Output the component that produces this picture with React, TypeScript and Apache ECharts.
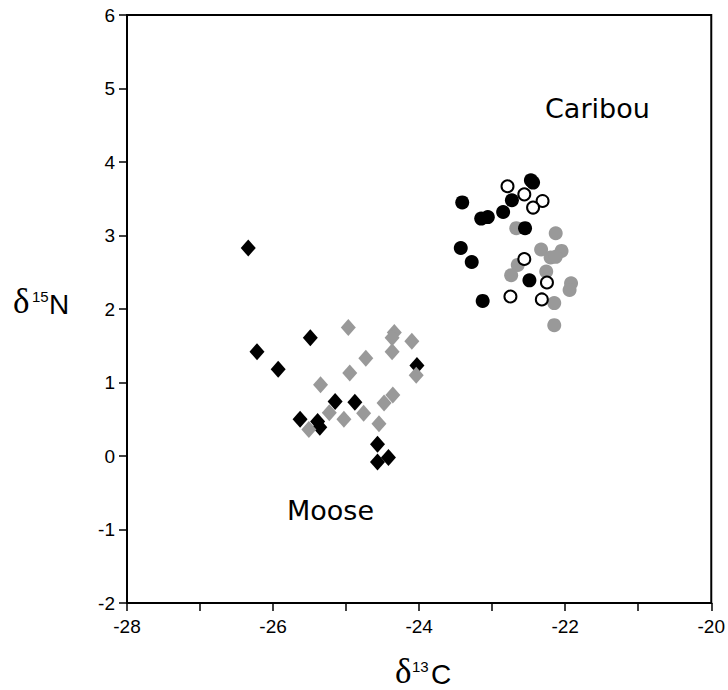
import React, { useEffect, useRef } from "react";
import * as echarts from "echarts";

const xTicks = [-28, -26, -24, -22, -20];
const yTicks = [-2, -1, 0, 1, 2, 3, 4, 5, 6];

const caribouGray: number[][] = [
  [-22.67, 3.1], [-22.13, 3.03], [-22.33, 2.81], [-22.05, 2.79], [-22.2, 2.7],
  [-22.13, 2.71], [-22.26, 2.51], [-22.65, 2.6], [-22.74, 2.46], [-21.92, 2.35],
  [-21.94, 2.26], [-22.15, 2.08], [-22.15, 1.78],
];
const caribouBlack: number[][] = [
  [-23.41, 3.45], [-23.15, 3.23], [-23.06, 3.25], [-22.85, 3.32], [-22.73, 3.48],
  [-22.47, 3.75], [-22.44, 3.72], [-22.55, 3.1], [-23.43, 2.83], [-23.28, 2.64],
  [-22.49, 2.39], [-23.13, 2.11],
];
const caribouOpen: number[][] = [
  [-22.79, 3.67], [-22.56, 3.56], [-22.31, 3.47], [-22.44, 3.38], [-22.56, 2.68],
  [-22.25, 2.36], [-22.75, 2.17], [-22.32, 2.13],
];
const mooseBlack: number[][] = [
  [-26.34, 2.83], [-25.49, 1.61], [-26.22, 1.42], [-25.93, 1.18], [-24.03, 1.23],
  [-25.15, 0.74], [-24.88, 0.73], [-25.63, 0.5], [-25.39, 0.47], [-25.36, 0.39],
  [-24.57, 0.16], [-24.57, -0.08], [-24.42, -0.02],
];
const mooseGray: number[][] = [
  [-24.97, 1.75], [-24.34, 1.68], [-24.37, 1.61], [-24.1, 1.56], [-24.37, 1.42],
  [-24.73, 1.33], [-24.95, 1.13], [-24.04, 1.1], [-25.35, 0.97], [-24.36, 0.83],
  [-24.48, 0.72], [-25.23, 0.59], [-25.03, 0.5], [-24.76, 0.58], [-24.55, 0.44],
  [-25.51, 0.36],
];

const GRAY = "#999999";
const SANS = "'Liberation Sans', Arial, sans-serif";
const SERIF = "'Liberation Serif', 'Times New Roman', serif";
const LABEL_FONT = "'DejaVu Sans', Tahoma, sans-serif";

export default function App() {
  const ref = useRef<HTMLDivElement>(null);
  useEffect(() => {
    if (!ref.current) return;
    const chart = echarts.init(ref.current, null, { renderer: "svg" });
    const axisLine = { show: true, onZero: false, lineStyle: { color: "#000", width: 2 } };
    const axisTick = { show: true, inside: false, length: 8, lineStyle: { color: "#000", width: 1.5 } };
    chart.setOption({
      animation: false,
      backgroundColor: "#fff",
      grid: {
        left: 127, right: 14, top: 15, bottom: 87,
        show: true, borderColor: "#000", borderWidth: 2, backgroundColor: "transparent",
      },
      xAxis: {
        type: "value", min: xTicks[0], max: xTicks[xTicks.length - 1], interval: 1,
        axisLine, axisTick, splitLine: { show: false },
        axisLabel: {
          color: "#000", fontFamily: SANS, fontSize: 19, margin: 14,
          formatter: (v: number) => (xTicks.indexOf(v) >= 0 ? String(v) : ""),
        },
      },
      yAxis: {
        type: "value", min: yTicks[0], max: yTicks[yTicks.length - 1], interval: 1,
        axisLine, axisTick, splitLine: { show: false },
        axisLabel: { color: "#000", fontFamily: SANS, fontSize: 19, margin: 12 },
      },
      series: [
        {
          type: "scatter", data: caribouGray, symbol: "circle", symbolSize: 14,
          itemStyle: { color: GRAY, opacity: 1 },
        },
        {
          type: "scatter", data: caribouBlack, symbol: "circle", symbolSize: 14,
          itemStyle: { color: "#000", opacity: 1 },
        },
        {
          type: "scatter", data: caribouOpen, symbol: "circle", symbolSize: 12,
          itemStyle: { color: "#fff", borderColor: "#000", borderWidth: 2, opacity: 1 },
        },
        {
          type: "scatter", data: mooseBlack, symbol: "diamond", symbolSize: [15, 17],
          itemStyle: { color: "#000", opacity: 1 },
        },
        {
          type: "scatter", data: mooseGray, symbol: "diamond", symbolSize: [15, 17],
          itemStyle: { color: GRAY, opacity: 1 },
        },
      ],
      graphic: [
        { type: "text", left: 545, top: 95, style: { text: "Caribou", font: `27px ${LABEL_FONT}`, fill: "#000" } },
        { type: "text", left: 287, top: 497, style: { text: "Moose", font: `27px ${LABEL_FONT}`, fill: "#000" } },
        // y-axis title
        { type: "text", x: 13, y: 319, style: { text: "δ", font: `35px ${SERIF}`, fill: "#000", verticalAlign: "bottom" } },
        { type: "text", x: 32, y: 304, style: { text: "15", font: `15px ${SANS}`, fill: "#000", verticalAlign: "bottom" } },
        { type: "text", x: 49, y: 318, style: { text: "N", font: `28px ${SANS}`, fill: "#000", verticalAlign: "bottom" } },
        // x-axis title
        { type: "text", x: 395, y: 689, style: { text: "δ", font: `35px ${SERIF}`, fill: "#000", verticalAlign: "bottom" } },
        { type: "text", x: 412, y: 674, style: { text: "13", font: `15px ${SANS}`, fill: "#000", verticalAlign: "bottom" } },
        { type: "text", x: 431, y: 688, style: { text: "C", font: `28px ${SANS}`, fill: "#000", verticalAlign: "bottom" } },
      ],
    });
    return () => chart.dispose();
  }, []);
  return (
    <div
      ref={ref}
      style={{ position: "fixed", left: 0, top: 0, width: 728, height: 690, background: "#fff" }}
    />
  );
}
